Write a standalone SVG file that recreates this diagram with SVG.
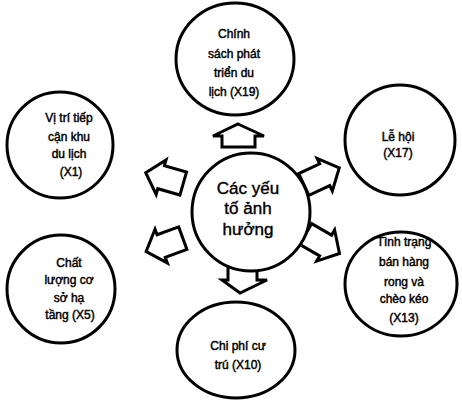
<svg xmlns="http://www.w3.org/2000/svg" width="462" height="402" viewBox="0 0 462 402">
<style>
.c{fill:#fff;stroke:#000;stroke-width:3}
.a{fill:#fff;stroke:#000;stroke-width:3;stroke-linejoin:miter}
text{font-family:"Liberation Sans",Arial,sans-serif;font-size:12px;fill:#000;stroke:#000;stroke-width:0.45;text-anchor:middle}
.big{font-size:17px;stroke-width:0.4}
</style>
<defs>
<polygon id="arr" points="19,0 3,18 3,12 -20,12 -20,-12 3,-12 3,-18"/>
</defs>
<rect width="462" height="402" fill="#fff"/>
<g id="connectors">
<polygon class="a" points="238,124 264,136 255,136 255,147 222,147 222,136 213,136"/>
<polygon class="a" points="228,267 257,267 257,280 267,280 240,293 222,280 228,280"/>
<use href="#arr" class="a" transform="translate(164,178) rotate(196)"/>
<use href="#arr" class="a" transform="translate(164,245) rotate(160)"/>
<use href="#arr" class="a" transform="translate(322,176) rotate(-25)"/>
<use href="#arr" class="a" transform="translate(323,244) rotate(30)"/>
</g>
<g id="center">
<ellipse class="c" cx="251" cy="212" rx="59" ry="59"/>
<text class="big" x="248" y="194">Các yếu</text>
<text class="big" x="248" y="214">tố ảnh</text>
<text class="big" x="248" y="235">hưởng</text>
</g>
<g id="x19">
<ellipse class="c" cx="235" cy="59" rx="59" ry="56"/>
<text x="234" y="38">Chính</text>
<text x="234" y="58">sách phát</text>
<text x="234" y="77">triển du</text>
<text x="234" y="96">lịch (X19)</text>
</g>
<g id="x1">
<ellipse class="c" cx="60" cy="145" rx="53" ry="53"/>
<text x="69" y="122">Vị trí tiếp</text>
<text x="69" y="141">cận khu</text>
<text x="69" y="158">du lịch</text>
<text x="71" y="176">(X1)</text>
</g>
<g id="x17">
<ellipse class="c" cx="400" cy="140" rx="55" ry="55"/>
<text x="398" y="141">Lễ hội</text>
<text x="398" y="157">(X17)</text>
</g>
<g id="x5">
<ellipse class="c" cx="61" cy="289" rx="54" ry="54"/>
<text x="69" y="267">Chất</text>
<text x="69" y="284">lượng cơ</text>
<text x="69" y="302">sở hạ</text>
<text x="70" y="319">tầng (X5)</text>
</g>
<g id="x13">
<ellipse class="c" cx="401" cy="284" rx="56" ry="52"/>
<text x="404" y="246">Tình trạng</text>
<text x="404" y="266">bán hàng</text>
<text x="404" y="286">rong và</text>
<text x="404" y="303">chèo kéo</text>
<text x="404" y="322">(X13)</text>
</g>
<g id="x10">
<ellipse class="c" cx="236" cy="350" rx="59" ry="48"/>
<text x="238" y="350">Chi phí cư</text>
<text x="238" y="369">trú (X10)</text>
</g>
</svg>
